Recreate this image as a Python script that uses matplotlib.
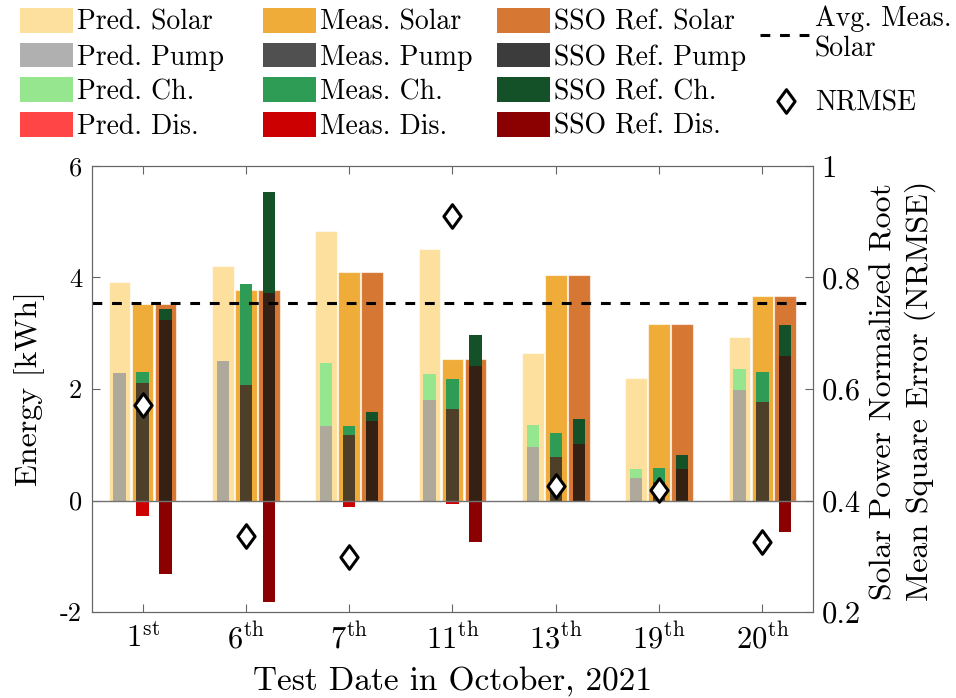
import matplotlib.pyplot as plt
import numpy as np
from matplotlib.patches import Patch
from matplotlib.lines import Line2D
from matplotlib.path import Path

plt.rcParams['font.family'] = 'cmr10'
plt.rcParams['mathtext.fontset'] = 'cm'
plt.rcParams['axes.unicode_minus'] = False

# test days in October 2021
day_labels = [r'$1^{\mathrm{st}}$', r'$6^{\mathrm{th}}$', r'$7^{\mathrm{th}}$', r'$11^{\mathrm{th}}$',
              r'$13^{\mathrm{th}}$', r'$19^{\mathrm{th}}$', r'$20^{\mathrm{th}}$']

# energies in kWh
pred_solar = [3.92, 4.21, 4.84, 4.51, 2.65, 2.20, 2.94]
pred_pump = [2.29, 2.50, 1.33, 1.81, 0.96, 0.41, 1.98]
pred_ch = [0.00, 0.00, 1.13, 0.45, 0.40, 0.16, 0.37]
pred_dis = [0.00, 0.00, 0.00, 0.00, 0.00, 0.00, -0.01]

meas_solar = [3.53, 3.77, 4.10, 2.54, 4.05, 3.17, 3.66]
meas_pump = [2.10, 2.08, 1.18, 1.64, 0.78, 0.33, 1.77]
meas_ch = [0.21, 1.80, 0.16, 0.54, 0.43, 0.26, 0.54]
meas_dis = [-0.27, -0.03, -0.11, -0.07, 0.00, 0.00, -0.02]

sso_solar = [3.53, 3.77, 4.10, 2.54, 4.05, 3.17, 3.66]
sso_pump = [3.24, 3.73, 1.43, 2.42, 1.02, 0.56, 2.60]
sso_ch = [0.20, 1.80, 0.16, 0.54, 0.44, 0.26, 0.54]
sso_dis = [-1.31, -1.82, -0.01, -0.75, -0.01, -0.01, -0.57]

nrmse = [0.571, 0.337, 0.299, 0.910, 0.426, 0.418, 0.326]

avg_meas_solar = np.mean(meas_solar)

colors = {
    'pred': ['#fee09e', '#9c9c9c', '#95e68e', '#ff4545'],
    'meas': ['#f0ac38', '#242424', '#2e9c55', '#cc0000'],
    'sso': ['#d67834', '#0b0b0b', '#145128', '#8b0000'],
}

# tall diamond like the matlab 'd' marker
diamond = Path([(0, 1), (0.73, 0), (0, -1), (-0.73, 0), (0, 1)],
               [Path.MOVETO, Path.LINETO, Path.LINETO, Path.LINETO, Path.CLOSEPOLY])

fig = plt.figure(figsize=(9.56, 6.98), dpi=100)
ax = fig.add_axes([0.0962, 0.1232, 0.7542, 0.639])
x = np.arange(1, len(day_labels) + 1)
wide = 0.21
narrow = 0.12

groups = [
    ('pred', -0.222, pred_solar, pred_pump, pred_ch, pred_dis),
    ('meas', 0.0, meas_solar, meas_pump, meas_ch, meas_dis),
    ('sso', 0.222, sso_solar, sso_pump, sso_ch, sso_dis),
]
for key, off, solar, pump, ch, dis in groups:
    c = colors[key]
    ax.bar(x + off, solar, wide, color=c[0], edgecolor=(1, 1, 1, 0.6), linewidth=0.8, zorder=1)
    ax.bar(x + off, pump, narrow, color=c[1], alpha=0.8, linewidth=0, zorder=2)
    ax.bar(x + off, ch, narrow, bottom=pump, color=c[2], linewidth=0, zorder=3)
    ax.bar(x + off, dis, narrow, color=c[3], linewidth=0, zorder=3)

ax.axhline(0, color='0.45', lw=1.0, zorder=3)
ax.axhline(avg_meas_solar, color='black', lw=2.2, ls=(0, (3.2, 3.2)), zorder=4)

ax.set_xlim(0.51, 7.49)
ax.set_ylim(-2, 6)
ax.set_xticks(x)
ax.set_xticklabels(day_labels, fontsize=22)
ax.set_yticks([-2, 0, 2, 4, 6])
ax.set_yticklabels(['-2', '0', '2', '4', '6'], fontsize=19)
ax.tick_params(axis='x', direction='in', top=True, length=6, color='0.4', pad=8)
ax.tick_params(axis='y', direction='in', right=False, length=6, color='0.4', pad=7)
for s in ax.spines.values():
    s.set_color('0.4')
ax.set_xlabel('Test Date in October, 2021', fontsize=24, va='center')
ax.xaxis.set_label_coords(0.5, -0.155)
ax.set_ylabel('Energy [kWh]', fontsize=23, va='center')
ax.yaxis.set_label_coords(-0.086, 0.5)

ax2 = ax.twinx()
ax2.plot(x, nrmse, ls='none', marker=diamond, ms=17, mfc='white', mec='black', mew=2.2, zorder=5)
ax2.set_ylim(0.2, 1.0)
ax2.set_yticks([0.2, 0.4, 0.6, 0.8, 1.0])
ax2.set_yticklabels(['0.2', '0.4', '0.6', '0.8', '1'], fontsize=22)
ax2.tick_params(axis='y', direction='in', length=6, color='0.4', pad=6)
for s in ax2.spines.values():
    s.set_color('0.4')
ax2.set_ylabel('Solar Power Normalized Root\nMean Square Error (NRMSE)', fontsize=23,
               va='center', linespacing=1.3)
ax2.yaxis.set_label_coords(1.125, 0.495)

# legend, one block per source
names = ['Solar', 'Pump', 'Ch.', 'Dis.']
prefix = {'pred': 'Pred. ', 'meas': 'Meas. ', 'sso': 'SSO Ref. '}
legend_x = {'pred': 20, 'meas': 263, 'sso': 497}
for key in ['pred', 'meas', 'sso']:
    handles = [Patch(facecolor=colors[key][i], alpha=0.8 if i == 1 else 1, label=prefix[key] + names[i])
               for i in range(4)]
    fig.legend(handles=handles, loc='upper left', bbox_to_anchor=(legend_x[key] / 956, 1 - 8 / 698),
               frameon=False, fontsize=20, handlelength=1.9, handleheight=1.0,
               handletextpad=0.15, labelspacing=0.24, borderpad=0, borderaxespad=0)

extra = [Line2D([], [], color='black', lw=2.2, ls=(0, (3.2, 3.2)), label='Avg. Meas.\nSolar'),
         Line2D([], [], ls='none', marker=diamond, ms=17, mfc='white', mec='black', mew=2.2, label='NRMSE')]
fig.legend(handles=extra, loc='upper left', bbox_to_anchor=(760 / 956, 1 - 6 / 698),
           frameon=False, fontsize=20, handlelength=1.85, handletextpad=0.12, labelspacing=1.0,
           borderpad=0, borderaxespad=0)

fig.savefig('out.png', dpi=100)
